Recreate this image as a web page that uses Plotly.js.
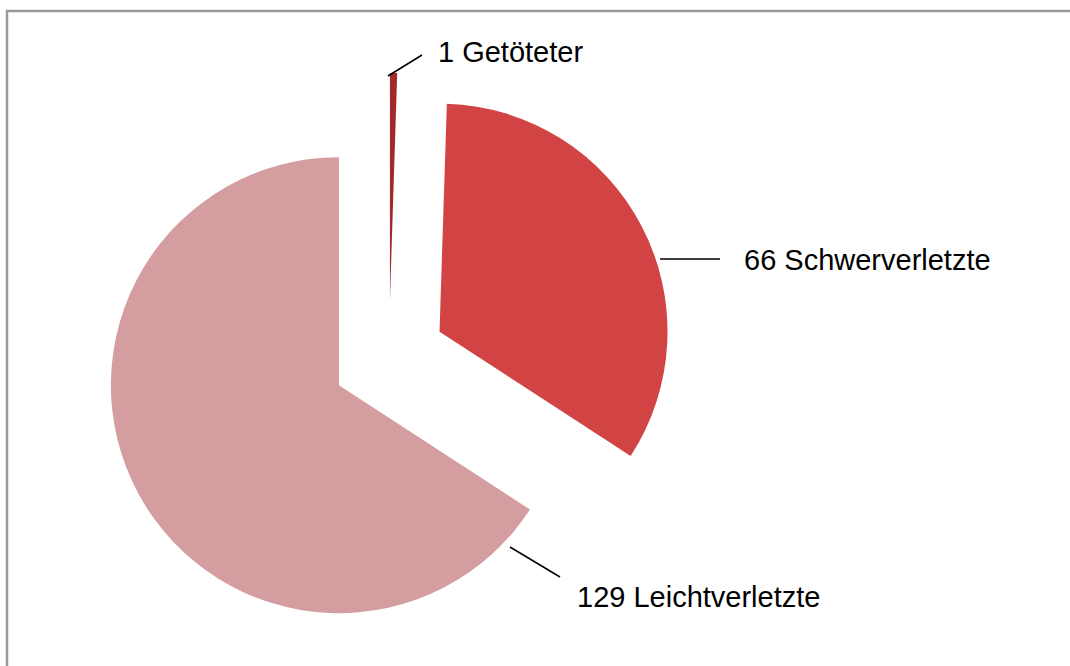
<!DOCTYPE html>
<html>
<head>
<meta charset="utf-8">
<script src="https://cdn.plot.ly/plotly-3.0.1.min.js"></script>
<style>
  html, body { margin: 0; padding: 0; background: #ffffff; }
  #chart { width: 1070px; height: 666px; }
</style>
</head>
<body>
<div id="chart"></div>
<script>
// ---- data ----
var categories = ['Getöteter', 'Schwerverletzte', 'Leichtverletzte'];
var counts = [1, 66, 129];

// ---- styling / layout helpers (not data) ----
var sliceColors = ['#a12a2a', '#d24343', '#d49ea0'];
var W = 1070, H = 666;
function px(x) { return x / W; }
function py(y) { return 1 - y / H; }

// label text positions (pixels) and leader lines
var labelPos = [[436, 52], [742, 260], [575, 597]];
var leaders = [[[388, 76], [422, 55]], [[660, 259], [720, 259]], [[510, 547], [560, 577]]];

var trace = {
  type: 'pie',
  labels: categories,
  values: counts,
  sort: false,
  direction: 'clockwise',
  rotation: 0,
  pull: categories.map(function () { return 0.25; }),
  marker: { colors: sliceColors, line: { width: 0 } },
  textinfo: 'none',
  hoverinfo: 'label+value',
  showlegend: false,
  domain: { x: [px(104), px(674)], y: [py(643), py(73)] }
};

var annotations = categories.map(function (c, i) {
  return {
    xref: 'paper', yref: 'paper',
    x: px(labelPos[i][0]), y: py(labelPos[i][1]),
    xanchor: 'left', yanchor: 'middle',
    text: counts[i] + ' ' + c,
    showarrow: false,
    font: { family: 'Liberation Sans, Arial, sans-serif', size: 29, color: '#000000' }
  };
});

var shapes = leaders.map(function (l) {
  return {
    type: 'line', xref: 'paper', yref: 'paper',
    x0: px(l[0][0]), y0: py(l[0][1]), x1: px(l[1][0]), y1: py(l[1][1]),
    line: { color: '#000000', width: 1.5 }
  };
});
// chart frame
shapes.push({
  type: 'rect', xref: 'paper', yref: 'paper',
  x0: px(7), y0: -0.05, x1: 1.05, y1: py(11),
  line: { color: '#9a9a9a', width: 2.5 }, fillcolor: 'rgba(0,0,0,0)'
});

var layout = {
  width: W, height: H,
  margin: { l: 0, r: 0, t: 0, b: 0 },
  paper_bgcolor: '#ffffff',
  annotations: annotations,
  shapes: shapes
};

Plotly.newPlot('chart', [trace], layout, { displayModeBar: false, staticPlot: true });
</script>
</body>
</html>
